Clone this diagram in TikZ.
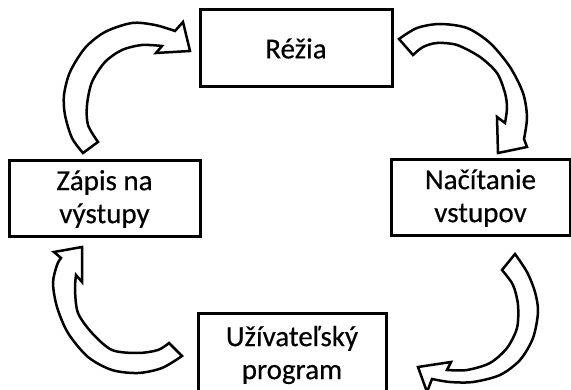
\documentclass[tikz,border=0pt]{standalone}
\usepackage{fontspec}
\setmainfont{Carlito}
\newfontfamily\stagefont[FakeBold=0.4]{Carlito}
\begin{document}
\begin{tikzpicture}[x=1pt, y=-1pt,
  stage/.style={draw, line width=3pt, align=center, inner sep=0pt,
    font=\stagefont\fontsize{29}{33}\selectfont},
  blockarrow/.style={draw, fill=white, line width=2.5pt, miter limit=4}]
\useasboundingbox (0,0) rectangle (571,390);
\clip (0,0) rectangle (571,390);

% the four stages of the cycle
\node[stage, minimum width=192pt, minimum height=77pt] (rezia) at (296,48.5) {Réžia};
\node[stage, minimum width=179pt, minimum height=76pt] (citanie) at (480.5,198) {Načítanie\\vstupov};
\node[stage, minimum width=188pt, minimum height=82pt] (program) at (292,355) {Užívateľský\\program};
\node[stage, minimum width=191pt, minimum height=76pt] (zapis) at (104.5,199) {Zápis na\\výstupy};

% curved block arrows, clockwise
% zapis -> rezia
\draw[blockarrow] (83,153) -- plot[smooth] coordinates {(83,153) (72,138) (65,115) (64,95) (70,72) (85,48) (105,32) (132,23) (155,25) (175,31)}
  -- (183,22) -- (190,51) -- (156,53) -- (162,46)
  -- plot[smooth] coordinates {(162,46) (142,45) (122,50) (105,62) (92,82) (87,105) (88,125) (98,142)} -- cycle;
% rezia -> citanie
\draw[blockarrow] (399,39) -- plot[smooth] coordinates {(399,39) (417,28) (440,24) (467,28) (490,43) (510,67) (523,93) (527,117) (524,139)}
  -- (527,147) -- (498,153) -- (497,117) -- (505,123)
  -- plot[smooth] coordinates {(505,123) (507,108) (505,93) (497,73) (480,57) (457,45) (437,43) (423,47) (413,55)} -- cycle;
% citanie -> program
\draw[blockarrow] (515,254) -- plot[smooth] coordinates {(515,254) (527,272) (535,292) (538,312) (533,338) (520,360) (500,375) (473,382) (450,382) (432,379)}
  -- (427,392) -- (418,367) -- (451,362) -- (447,370)
  -- plot[smooth] coordinates {(447,370) (467,370) (490,363) (507,348) (517,328) (518,305) (513,285) (502,270)} -- cycle;
% program -> zapis
\draw[blockarrow] (182,356) -- plot[smooth] coordinates {(182,356) (162,368) (138,373) (112,370) (88,357) (68,333) (57,307) (53,283) (57,265) (61,258)}
  -- (54,252) -- (82,247) -- (82,282) -- (76,275)
  -- plot[smooth] coordinates {(76,275) (75,290) (78,313) (92,333) (112,350) (138,353) (158,350) (169,343)} -- cycle;
\end{tikzpicture}
\end{document}
